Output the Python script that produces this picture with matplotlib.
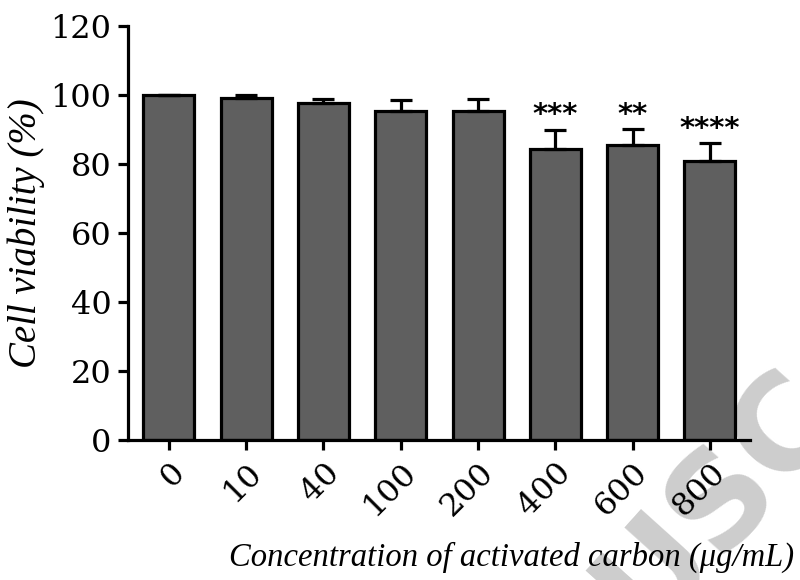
# IMPORTS

import numpy as np
import matplotlib.pyplot as plt

# DATA

concentrations = ['0', '10', '40', '100', '200', '400', '600', '800']
viability = [100.0, 99.2, 97.7, 95.5, 95.5, 84.3, 85.6, 81.0]
err_upper = [0.0, 0.8, 1.2, 3.2, 3.4, 5.7, 4.5, 5.0]
stars = ['', '', '', '', '', '***', '**', '****']

# PLOT

plt.rcParams['font.family'] = ['DejaVu Serif']

fig = plt.figure(figsize=(8, 5.8), dpi=100)
ax = fig.add_axes([0.16, 0.241, 0.7775, 0.714])
ax.patch.set_alpha(0)

x = np.arange(len(concentrations))
ax.bar(x, viability, width=0.66, color='#5f5f5f', edgecolor='black',
       linewidth=2.3, zorder=2)
ax.errorbar(x, viability, yerr=[np.zeros(len(x)), err_upper], fmt='none',
            ecolor='black', elinewidth=2.3, capsize=8, capthick=2.3, zorder=3)

for xi, v, e, s in zip(x, viability, err_upper, stars):
    if s:
        ax.text(xi, v + e + 0.2, s, ha='center', va='bottom', fontsize=21,
                family='DejaVu Sans', fontweight='bold')

ax.set_xlim(-0.53, 7.52)
ax.set_ylim(0, 120)
ax.set_yticks(range(0, 121, 20))
ax.set_xticks(x)
ax.set_xticklabels(concentrations, rotation=45, ha='right',
                   rotation_mode='anchor')
ax.tick_params(labelsize=23, width=2.3, length=7, pad=5)
ax.spines['top'].set_visible(False)
ax.spines['right'].set_visible(False)
ax.spines['left'].set_linewidth(2.3)
ax.spines['bottom'].set_linewidth(2.3)

ax.set_ylabel('Cell viability (%)', fontsize=28, style='italic',
              family='Liberation Serif', labelpad=4)
fig.text(0.640, 0.025, 'Concentration of activated carbon (μg/mL)',
         fontsize=23.5, style='italic', family='Liberation Serif',
         ha='center', va='baseline')

# watermark fragment (behind everything)
fig.text(0.8975, 0.14, 'USC', fontsize=95, color='#cdcdcd', rotation=48,
         ha='center', va='center', family='DejaVu Sans', fontweight='bold',
         zorder=-1)

fig.savefig('out.png')
